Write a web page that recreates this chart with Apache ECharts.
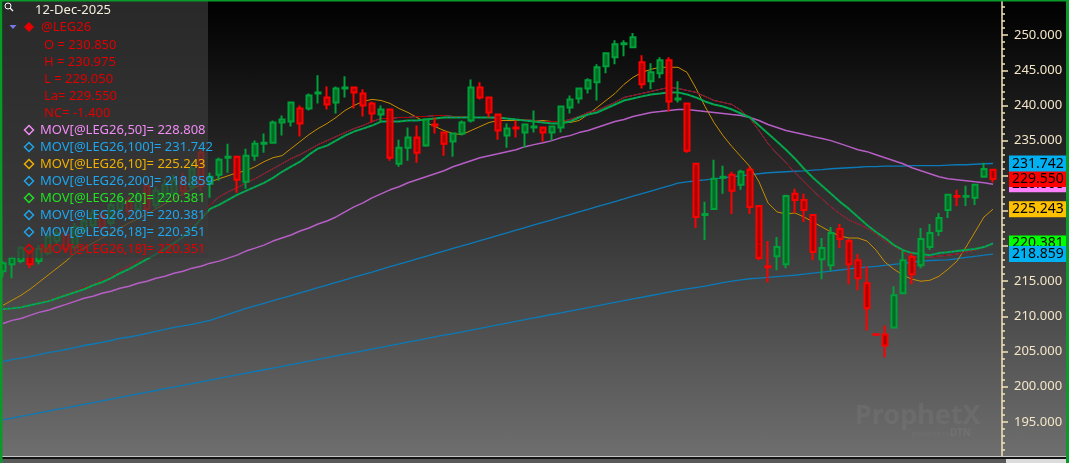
<!DOCTYPE html>
<html><head><meta charset="utf-8">
<script src="https://cdn.jsdelivr.net/npm/echarts@6/dist/echarts.min.js"></script>
<style>
html,body{margin:0;padding:0;background:#000;overflow:hidden;}
#c{width:1069px;height:463px;background:linear-gradient(to bottom,#000000 0px,#6e6e6e 456px,#6e6e6e 463px);}
</style></head><body><div id="c"></div>
<script>
const symbolName = '@LEG26';
const lastDate = '12-Dec-2025';
const opens = [216.43,217.43,217.86,219.29,217.86,219.00,220.71,221.57,219.86,222.14,
223.00,224.29,223.29,225.29,226.43,225.29,228.57,225.86,227.00,227.57,
229.57,228.43,233.29,228.86,230.14,232.57,232.71,229.14,232.86,234.57,
234.71,237.57,237.71,239.57,239.57,241.71,241.14,240.43,242.43,242.57,
241.71,240.29,238.71,239.43,231.71,234.00,235.43,234.29,237.29,236.14,
234.86,236.00,237.86,242.57,241.14,238.71,235.71,236.86,236.14,236.86,
236.86,236.14,236.86,239.71,241.00,242.43,243.29,245.57,246.86,248.71,
248.29,246.14,243.43,244.57,246.43,240.86,240.29,231.71,224.43,225.29,
229.71,230.14,228.71,230.86,225.71,217.14,218.57,217.43,227.43,226.57,
224.43,218.14,217.29,222.43,220.71,218.00,214.71,207.45,207.43,208.43,
213.29,218.43,217.29,219.86,222.14,225.14,227.14,227.00,226.86,229.86,
230.85];
const highs = [217.86,218.57,220.00,219.57,220.14,221.86,222.43,222.00,223.29,224.29,
225.29,225.00,226.43,227.29,227.00,227.86,229.00,228.43,229.57,230.14,
230.43,231.86,233.86,230.43,232.57,234.57,232.86,233.86,235.00,236.00,
237.86,238.57,240.57,240.00,241.71,244.29,242.71,242.71,244.14,242.71,
242.29,240.57,240.00,239.57,235.14,236.86,237.14,238.14,238.29,236.29,
236.14,237.86,243.71,243.29,241.29,238.86,237.43,237.86,237.43,239.29,
237.00,237.14,240.00,241.43,242.57,243.86,245.86,247.57,249.29,249.29,
250.29,247.14,246.00,246.86,246.86,243.43,240.43,231.86,226.29,232.29,
231.43,230.57,230.86,231.29,225.86,220.71,221.29,227.29,228.14,227.43,
224.57,221.14,222.71,223.14,221.00,218.86,217.14,207.50,208.71,214.29,
219.29,219.00,222.57,223.14,224.71,227.43,228.00,228.57,228.86,231.86,
230.975];
const lows = [215.57,215.43,217.57,216.86,217.43,218.71,220.14,219.00,219.43,221.57,
222.57,222.14,222.86,224.71,224.43,224.71,224.71,225.29,226.43,227.00,
227.14,227.86,227.86,226.86,229.29,230.43,227.57,228.14,232.14,233.29,
234.57,235.71,237.00,235.57,239.29,240.29,239.43,238.86,241.14,239.57,
238.43,237.57,237.57,232.14,231.29,232.14,231.86,234.14,236.00,232.86,
232.71,235.71,237.57,240.86,238.29,235.14,234.00,235.43,234.00,236.14,
234.86,235.00,236.14,238.86,240.29,241.71,240.71,244.57,245.86,247.00,
248.14,242.43,242.29,243.86,239.14,240.43,233.29,222.57,220.86,225.14,
227.43,224.57,228.00,224.57,218.00,214.86,216.57,216.86,224.71,223.43,
218.00,215.29,216.43,219.71,214.57,213.71,208.00,207.35,204.14,208.29,
213.14,214.57,216.86,219.43,221.43,224.00,225.71,225.71,225.86,229.71,
229.05];
const closes = [217.57,218.29,219.71,217.43,219.57,221.29,221.86,219.57,222.71,223.57,
224.71,222.71,225.86,226.71,225.00,227.14,225.29,227.86,228.71,229.29,
227.86,231.00,228.57,229.86,232.29,232.71,229.43,232.86,234.57,234.71,
237.57,238.00,240.43,237.43,241.43,241.86,240.14,242.43,242.57,241.86,
240.00,238.86,239.43,232.57,234.00,235.43,233.29,238.00,237.14,234.57,
236.00,237.57,242.57,241.14,239.00,236.43,236.71,236.71,237.29,237.00,
236.14,237.00,239.86,240.86,242.43,243.57,245.43,247.43,248.71,248.86,
249.71,243.00,244.71,246.43,240.57,241.00,233.57,224.14,224.57,229.57,
229.86,227.86,230.57,225.57,218.29,217.00,219.86,227.14,226.57,225.14,
219.14,219.71,221.86,221.00,217.43,215.43,211.14,207.40,205.86,213.00,
218.00,216.00,221.00,221.86,224.00,227.29,227.00,227.14,228.71,230.95,
229.55];
const ma10 = [211.57,212.29,213.00,213.86,214.86,215.86,216.86,217.86,219.00,219.71,
220.43,221.14,221.86,222.57,223.29,223.86,224.57,225.29,226.00,226.71,
227.43,228.14,228.71,229.14,229.57,230.00,230.43,230.71,231.29,232.00,
232.57,232.86,233.86,234.86,235.86,236.71,237.43,238.29,239.29,240.00,
240.57,240.86,240.71,240.29,239.57,239.00,238.29,237.57,237.00,236.43,
236.00,235.86,236.43,237.00,237.57,237.86,237.86,237.86,237.86,237.86,
237.86,237.71,237.71,237.57,237.86,238.71,239.71,240.71,241.71,243.00,
244.00,244.71,245.14,245.43,245.43,245.43,244.71,242.43,239.86,237.57,
235.71,234.14,232.71,231.29,229.14,226.14,224.86,224.57,224.71,224.14,
223.43,222.71,222.00,221.43,221.14,221.14,220.71,219.43,217.71,216.71,
215.86,215.29,215.00,215.14,215.71,216.71,217.86,219.86,222.00,224.14,
225.243];
const ma18 = [210.86,211.14,211.43,211.57,212.00,212.29,212.71,213.14,213.57,214.14,
214.57,215.14,215.71,216.57,217.14,217.86,218.71,219.43,220.29,221.29,
222.29,223.29,224.57,225.86,227.00,227.71,228.29,229.00,229.57,230.29,
231.00,231.71,232.43,233.00,233.71,234.43,235.00,235.57,236.14,236.71,
237.14,237.71,238.14,238.14,238.29,238.29,238.43,238.43,238.57,238.57,
238.43,238.43,238.29,238.29,238.29,238.14,238.14,238.00,238.00,237.86,
237.71,237.71,237.71,238.00,238.43,239.00,239.29,239.86,240.43,241.14,
241.43,241.71,242.00,242.29,242.57,242.43,242.14,241.86,241.29,240.71,
240.43,240.14,239.29,238.14,236.43,234.57,233.14,231.86,230.43,229.14,
227.86,226.71,225.57,224.57,223.71,223.14,222.57,221.71,220.71,220.00,
219.14,218.43,218.43,218.43,218.57,218.71,218.86,219.14,219.43,219.86,
220.351];
const ma20 = [211.00,211.14,211.29,211.57,211.86,212.14,212.57,213.00,213.43,213.86,
214.43,214.86,215.43,216.14,216.71,217.43,218.14,218.86,219.57,220.43,
221.29,222.43,223.86,225.29,225.86,226.57,227.29,227.86,228.43,229.00,
229.71,230.57,231.29,232.00,233.00,233.86,234.29,235.00,235.71,236.29,
236.71,237.14,237.71,237.71,237.71,237.86,237.86,238.00,238.14,238.29,
238.29,238.29,238.29,238.29,238.29,238.29,238.14,238.00,237.86,237.71,
237.57,237.43,237.43,237.71,238.29,238.71,239.00,239.57,240.14,240.71,
241.00,241.29,241.57,241.71,241.86,241.86,241.57,241.14,240.57,240.14,
239.86,239.43,238.86,238.29,237.14,236.00,234.86,233.71,232.43,231.00,
229.71,228.57,227.43,226.29,225.29,224.14,223.00,222.00,221.14,220.14,
219.43,219.00,218.86,218.71,219.00,219.14,219.29,219.43,219.57,219.86,
220.381];
const ma50 = [209.00,209.43,209.71,210.14,210.57,210.86,211.29,211.71,212.14,212.57,
212.86,213.29,213.57,214.00,214.29,214.71,215.00,215.43,215.71,216.14,
216.43,216.86,217.14,217.57,217.86,218.29,218.71,219.29,219.71,220.14,
220.71,221.14,221.57,222.14,222.57,223.14,223.57,224.14,224.86,225.57,
226.14,226.86,227.43,228.00,228.43,229.00,229.43,229.86,230.29,230.71,
231.29,231.71,232.14,232.57,232.86,233.14,233.43,233.71,234.14,234.43,
234.71,235.00,235.43,235.71,236.14,236.43,236.86,237.29,237.71,238.00,
238.43,238.71,239.00,239.14,239.29,239.43,239.43,239.29,239.14,239.00,
238.86,238.71,238.57,238.29,237.86,237.29,236.86,236.43,236.14,235.86,
235.57,235.29,235.00,234.57,234.14,233.71,233.43,233.00,232.57,232.14,
231.71,231.14,230.71,230.29,229.86,229.57,229.43,229.29,229.14,229.00,
228.808];
const ma100 = [203.57,203.86,204.07,204.29,204.57,204.86,205.07,205.29,205.57,205.86,
206.07,206.29,206.57,206.86,207.07,207.29,207.57,207.86,208.14,208.43,
208.64,208.86,209.14,209.43,209.86,210.29,210.71,211.14,211.50,211.86,
212.23,212.60,212.97,213.34,213.71,214.09,214.46,214.83,215.20,215.57,
215.94,216.31,216.69,217.06,217.43,217.80,218.17,218.54,218.91,219.29,
219.66,220.03,220.40,220.77,221.14,221.51,221.89,222.26,222.63,223.00,
223.37,223.74,224.11,224.49,224.86,225.23,225.60,225.97,226.34,226.71,
227.09,227.46,227.83,228.20,228.57,228.94,229.14,229.29,229.43,229.57,
229.71,229.86,230.00,230.14,230.29,230.43,230.50,230.57,230.64,230.71,
230.79,230.86,231.00,231.07,231.14,231.21,231.29,231.29,231.36,231.36,
231.36,231.43,231.43,231.43,231.43,231.50,231.57,231.57,231.64,231.71,
231.742];
const ma200 = [195.29,195.53,195.78,196.02,196.27,196.51,196.76,197.00,197.25,197.50,
197.74,197.99,198.23,198.48,198.72,198.97,199.22,199.46,199.71,199.95,
200.20,200.44,200.69,200.93,201.18,201.43,201.67,201.92,202.16,202.41,
202.65,202.90,203.14,203.39,203.64,203.88,204.13,204.37,204.62,204.86,
205.11,205.35,205.60,205.85,206.09,206.34,206.58,206.83,207.07,207.32,
207.56,207.81,208.06,208.30,208.55,208.79,209.04,209.28,209.53,209.78,
210.02,210.27,210.51,210.76,211.00,211.25,211.49,211.74,211.99,212.23,
212.48,212.72,212.97,213.21,213.46,213.71,213.90,214.10,214.30,214.55,
214.80,215.00,215.20,215.35,215.45,215.55,215.65,215.75,215.85,216.00,
216.15,216.30,216.45,216.60,216.75,216.90,217.00,217.10,217.25,217.40,
217.55,217.70,217.85,217.95,218.00,218.05,218.20,218.40,218.55,218.70,
218.859];
const yTicks = {min: 190, max: 255, step: 5};

// categories: trading days ending at lastDate (x axis hidden), plus one empty slot
const categories = [];
(function(){
  let d = new Date(Date.UTC(2025, 11, 12));
  const list = [];
  while (list.length < opens.length) {
    const wd = d.getUTCDay();
    if (wd !== 0 && wd !== 6) list.unshift(d.toISOString().slice(0,10));
    d = new Date(d.getTime() - 86400000);
  }
  list.forEach(x => categories.push(x));
  categories.push('');
})();

const FONT = '"Noto Sans", "Open Sans", sans-serif';
const n = opens.length - 1;
const candleData = opens.map((o, i) => [o, closes[i], lows[i], highs[i]]);

function tag(value, bg, z) {
  const txt = value.toFixed(3);
  return {
    silent: true, symbol: ['none', 'none'], z: z, animation: false, precision: 3,
    lineStyle: {color: 'rgba(0,0,0,0)', width: 1, type: 'solid'},
    label: {show: true, position: 'end', distance: 7,
      formatter: () => txt,
      backgroundColor: bg, color: '#000', fontSize: 14, fontFamily: FONT,
      padding: [1, 3, 0, 3], lineHeight: 15},
    data: [{yAxis: value}]
  };
}
function maLine(name, data, color, width, z, extra) {
  return Object.assign({
    name: name, type: 'line', data: data, symbol: 'none', z: z,
    lineStyle: {color: color, width: width}, silent: true, animation: false
  }, extra || {});
}

const chart = echarts.init(document.getElementById('c'), null, {renderer: 'canvas'});

const legendItems = [
  ['MOV[' + symbolName + ',50]= ', ma50, '#f08cf5'],
  ['MOV[' + symbolName + ',100]= ', ma100, '#1ea6ee'],
  ['MOV[' + symbolName + ',10]= ', ma10, '#f0b000'],
  ['MOV[' + symbolName + ',200]= ', ma200, '#1ea6ee'],
  ['MOV[' + symbolName + ',20]= ', ma20, '#22e022'],
  ['MOV[' + symbolName + ',20]= ', ma20, '#1ea6ee'],
  ['MOV[' + symbolName + ',18]= ', ma18, '#1ea6ee'],
  ['MOV[' + symbolName + ',18]= ', ma18, '#e80000']
];
const ohlcLines = [
  'O = ' + opens[n].toFixed(3),
  'H = ' + highs[n].toFixed(3),
  'L = ' + lows[n].toFixed(3),
  'La= ' + closes[n].toFixed(3),
  'NC= ' + (closes[n] - closes[n - 1]).toFixed(3)
];

const graphics = [];
graphics.push({type: 'rect', shape: {x: 0, y: 456, width: 1069, height: 1}, style: {fill: '#c8c8c8'}, z: 90});
graphics.push({type: 'rect', shape: {x: 0, y: 457, width: 1069, height: 2}, style: {fill: '#141414'}, z: 90});
graphics.push({type: 'rect', shape: {x: 0, y: 459, width: 1006, height: 4}, style: {fill: '#5a5a5a'}, z: 90});
graphics.push({type: 'rect', shape: {x: 1006, y: 459, width: 63, height: 4}, style: {fill: '#dcdcdc'}, z: 90});
graphics.push({type: 'rect', shape: {x: 0, y: 0, width: 1069, height: 1.5}, style: {fill: '#0a9a2a'}, z: 91});
graphics.push({type: 'rect', shape: {x: 0, y: 0, width: 2.5, height: 463}, style: {fill: '#0a9a2a'}, z: 91});
graphics.push({type: 'rect', shape: {x: 1066, y: 0, width: 3, height: 463}, style: {fill: '#0a9a2a'}, z: 91});
graphics.push({type: 'text', x: 855, y: 416, z: 4, style: {text: 'ProphetX', fill: 'rgba(150,150,150,0.16)', fontSize: 27, fontWeight: 'bold', fontFamily: FONT, verticalAlign: 'middle'}});
graphics.push({type: 'text', x: 912, y: 434, z: 4, style: {text: 'powered by', fill: 'rgba(150,150,150,0.16)', fontSize: 7, fontFamily: FONT, verticalAlign: 'middle'}});
graphics.push({type: 'text', x: 950, y: 433, z: 4, style: {text: 'DTN', fill: 'rgba(150,150,150,0.2)', fontSize: 10, fontWeight: 'bold', fontFamily: FONT, verticalAlign: 'middle'}});
graphics.push({type: 'rect', shape: {x: 3, y: 0, width: 205, height: 258}, style: {fill: 'rgba(58,58,58,0.7)'}, z: 50});
graphics.push({type: 'circle', shape: {cx: 8, cy: 6, r: 3}, style: {fill: 'none', stroke: '#ffffff', lineWidth: 1}, z: 60});
graphics.push({type: 'line', shape: {x1: 10, y1: 8, x2: 13, y2: 11}, style: {stroke: '#ffffff', lineWidth: 1.2}, z: 60});
graphics.push({type: 'text', x: 35, y: 10, z: 60, style: {text: lastDate, fill: '#f4eedc', fontSize: 13, fontFamily: FONT, verticalAlign: 'middle'}});
graphics.push({type: 'polygon', shape: {points: [[9.5, 25], [16.5, 25], [13, 29]]}, style: {fill: '#7a78e8'}, z: 60});
graphics.push({type: 'polygon', shape: {points: [[29, 22], [34, 27], [29, 32], [24, 27]]}, style: {fill: '#e80000'}, z: 60});
graphics.push({type: 'text', x: 41, y: 27, z: 60, style: {text: symbolName, fill: '#e00000', fontSize: 13, fontFamily: FONT, verticalAlign: 'middle'}});
ohlcLines.forEach((t, k) => {
  graphics.push({type: 'text', x: 44, y: 45 + 17 * k, z: 60, style: {text: t, fill: '#e00000', fontSize: 13, fontFamily: FONT, verticalAlign: 'middle'}});
});
legendItems.forEach((it, k) => {
  const cy = 130 + 17 * k;
  graphics.push({type: 'polygon', shape: {points: [[29, cy - 4.5], [33.5, cy], [29, cy + 4.5], [24.5, cy]]}, style: {fill: 'none', stroke: it[2], lineWidth: 1.5}, z: 60});
  graphics.push({type: 'text', x: 40, y: cy, z: 60, style: {text: it[0] + it[1][it[1].length - 1].toFixed(3), fill: it[2], fontSize: 13, fontFamily: FONT, verticalAlign: 'middle'}});
});

chart.setOption({
  animation: false,
  backgroundColor: 'transparent',
  grid: {left: 3, width: 999, top: 0, height: 457, containLabel: false, outerBoundsMode: 'none'},
  xAxis: {type: 'category', data: categories, boundaryGap: false, show: false},
  yAxis: {
    type: 'value', position: 'right', min: yTicks.min, max: yTicks.max, interval: yTicks.step,
    axisLine: {show: true, lineStyle: {color: '#f3e3b8', width: 1.5}},
    axisTick: {show: true, length: 6, lineStyle: {color: '#f3e3b8', width: 1.5}},
    minorTick: {show: true, splitNumber: 5, length: 3, lineStyle: {color: '#f3e3b8', width: 1.5}},
    axisLabel: {color: '#f3e6c8', fontSize: 13, fontFamily: FONT, margin: 12,
      formatter: v => v.toFixed(3), showMinLabel: false, showMaxLabel: false},
    splitLine: {show: false}
  },
  series: [
    maLine('MA200', ma200, '#0b7ab8', 1.3, 3, {markLine: tag(ma200[n], '#00b0f0', 31)}),
    maLine('MA100', ma100, '#0b7ab8', 1.3, 3, {markLine: tag(ma100[n], '#00b0f0', 32)}),
    maLine('MA50', ma50, '#b65ec6', 1.5, 3, {markLine: tag(ma50[n], '#ff80ff', 30)}),
    maLine('MA10', ma10, '#c88e00', 1, 3, {markLine: tag(ma10[n], '#ffc000', 30)}),
    maLine('MA18b', ma18, '#1a8fd0', 1, 3),
    maLine('MA18', ma18, '#b00000', 1, 3),
    maLine('MA20', ma20, '#00a832', 2, 3, {markLine: tag(ma20[n], '#00ff00', 30)}),
    maLine('MA20b', ma20, '#1a8fd0', 1, 3, {lineStyle: {color: '#1a8fd0', width: 1, type: [2, 3]}}),
    {
      name: symbolName, type: 'candlestick', data: candleData, barWidth: 6, z: 5, silent: true,
      itemStyle: {color: '#006b22', color0: '#a80000', borderColor: '#00a03a', borderColor0: '#ff0000', borderWidth: 2},
      markLine: tag(closes[n], '#ff0000', 31)
    }
  ],
  graphic: graphics
});
</script>
</body></html>
